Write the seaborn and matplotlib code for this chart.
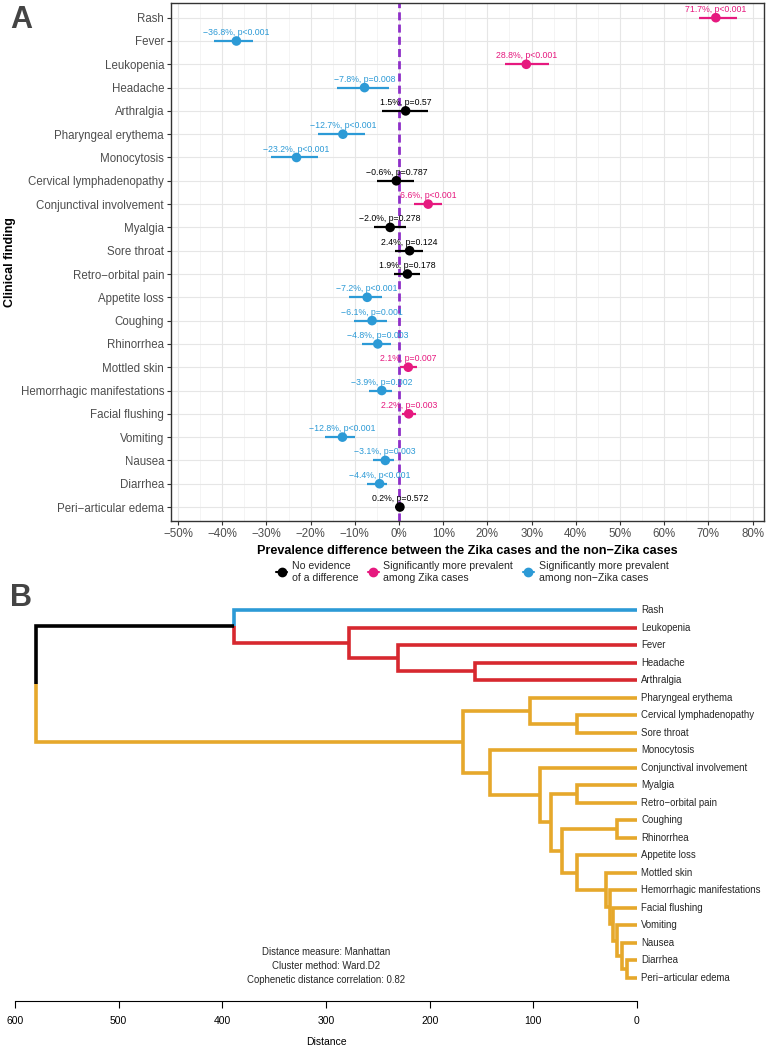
import numpy as np
import pandas as pd
import matplotlib.pyplot as plt
from matplotlib.lines import Line2D
from matplotlib.ticker import MultipleLocator, FuncFormatter
import seaborn as sns

# ---- Panel A data: prevalence differences (Zika - non-Zika) ----
findings = ["Rash", "Fever", "Leukopenia", "Headache", "Arthralgia", "Pharyngeal erythema",
            "Monocytosis", "Cervical lymphadenopathy", "Conjunctival involvement", "Myalgia",
            "Sore throat", "Retro\u2212orbital pain", "Appetite loss", "Coughing", "Rhinorrhea",
            "Mottled skin", "Hemorrhagic manifestations", "Facial flushing", "Vomiting",
            "Nausea", "Diarrhea", "Peri\u2212articular edema"]
diff = [71.7, -36.8, 28.8, -7.8, 1.5, -12.7, -23.2, -0.6, 6.6, -2.0, 2.4, 1.9,
        -7.2, -6.1, -4.8, 2.1, -3.9, 2.2, -12.8, -3.1, -4.4, 0.2]
ci_low = [67.9, -41.9, 24.0, -14.0, -3.9, -18.3, -29.0, -4.9, 3.4, -5.7, -1.0, -1.1,
          -11.4, -10.1, -8.3, 0.3, -6.8, 0.6, -16.7, -5.8, -7.2, -0.8]
ci_high = [76.4, -33.1, 33.9, -2.3, 6.6, -7.8, -18.4, 3.4, 9.8, 1.5, 5.5, 4.7,
           -3.9, -2.7, -1.9, 4.0, -1.5, 3.8, -10.0, -1.1, -2.7, 1.2]
pvals = ["p<0.001", "p<0.001", "p<0.001", "p=0.008", "p=0.57", "p<0.001", "p<0.001",
         "p=0.787", "p<0.001", "p=0.278", "p=0.124", "p=0.178", "p<0.001", "p=0.001",
         "p=0.003", "p=0.007", "p=0.002", "p=0.003", "p<0.001", "p=0.003", "p<0.001", "p=0.572"]
group = ["zika", "non", "zika", "non", "none", "non", "non", "none", "zika", "none", "none",
         "none", "non", "non", "non", "zika", "non", "zika", "non", "non", "non", "none"]

group_labels = {"none": "No evidence\nof a difference",
                "zika": "Significantly more prevalent\namong Zika cases",
                "non": "Significantly more prevalent\namong non\u2212Zika cases"}
palette = {"none": "#000000", "zika": "#E6197F", "non": "#2C9AD6"}

# ---- Panel B data: hierarchical clustering (Manhattan, Ward.D2) ----
leaves = ["Rash", "Leukopenia", "Fever", "Headache", "Arthralgia", "Pharyngeal erythema",
          "Cervical lymphadenopathy", "Sore throat", "Monocytosis", "Conjunctival involvement",
          "Myalgia", "Retro\u2212orbital pain", "Coughing", "Rhinorrhea", "Appetite loss",
          "Mottled skin", "Hemorrhagic manifestations", "Facial flushing", "Vomiting",
          "Nausea", "Diarrhea", "Peri\u2212articular edema"]
# merges: a leaf name or the index of an earlier merge
merge_left = ["Headache", "Fever", "Leukopenia", "Rash",
              "Cervical lymphadenopathy", "Pharyngeal erythema",
              "Diarrhea", "Nausea", "Vomiting", "Facial flushing",
              "Hemorrhagic manifestations", "Mottled skin", "Appetite loss",
              "Coughing", 13, "Myalgia", 15, "Conjunctival involvement",
              "Monocytosis", 5, 3]
merge_right = ["Arthralgia", 0, 1, 2,
               "Sore throat", 4,
               "Peri\u2212articular edema", 6, 7, 8, 9, 10, 11,
               "Rhinorrhea", 12, "Retro\u2212orbital pain", 14, 16, 17, 18, 19]
merge_height = [156, 231, 278, 389, 58, 103.5, 10, 14.8, 19, 22.8, 26, 30, 57.5,
                19.6, 72.6, 57.6, 83, 93.6, 142, 168, 580]
cluster_blue = ["Rash"]
cluster_red = ["Leukopenia", "Fever", "Headache", "Arthralgia"]
cluster_colors = {"blue": "#2C9AD6", "red": "#D7282F", "gold": "#E6A82B"}

sns.set_theme(style="whitegrid")
plt.rcParams['font.family'] = ['Liberation Sans', 'DejaVu Sans']
plt.rcParams['axes.unicode_minus'] = True

fig = plt.figure(figsize=(7.73, 10.5), dpi=100)

# ================= Panel A =================
df = pd.DataFrame({"finding": findings, "diff": diff, "low": ci_low, "high": ci_high,
                   "p": pvals, "group": group})
df["row"] = np.arange(len(df))

ax = fig.add_axes([171/773, 1-521/1050, (764-171)/773, (521-3)/1050])
ax.set_facecolor("white")
ax.hlines(df["row"], df["low"], df["high"], colors=df["group"].map(palette), lw=1.6, zorder=3)
ax.axvline(0, color="#8E2FC8", lw=2, ls=(0, (2.9, 1.5)), zorder=2.5)
sns.scatterplot(data=df, x="diff", y="row", hue="group", palette=palette, s=48,
                edgecolor="none", legend=False, ax=ax, zorder=4)

for _, r in df.iterrows():
    lab = f"{r['diff']:.1f}%, {r['p']}".replace("-", "\u2212")
    ax.text(r["diff"], r["row"] - 0.17, lab, ha="center", va="bottom", fontsize=6.3,
            color=palette[r["group"]], zorder=5)

ax.set_xlim(-51.6, 82.6)
ax.set_ylim(len(df) - 0.4, -0.63)
ax.set_yticks(df["row"])
ax.set_yticklabels(df["finding"])
ax.xaxis.set_major_locator(MultipleLocator(10))
ax.xaxis.set_minor_locator(MultipleLocator(5))
ax.xaxis.set_major_formatter(FuncFormatter(lambda v, _: f"{v:.0f}%".replace("-", "\u2212")))
ax.grid(which="major", color="#E6E6E6", lw=0.8)
ax.grid(which="minor", axis="x", color="#F0F0F0", lw=0.5)
ax.set_axisbelow(True)
for s in ax.spines.values():
    s.set_color("#333333")
    s.set_linewidth(1.0)
ax.tick_params(axis="both", which="major", bottom=True, left=True, length=3, width=0.8,
               color="#333333", labelcolor="#4D4D4D", labelsize=8.3, pad=2)
ax.tick_params(axis="x", which="minor", bottom=False)
ax.set_xlabel("Prevalence difference between the Zika cases and the non\u2212Zika cases",
              fontweight="bold", fontsize=9.1, color="black", labelpad=4)
ax.set_ylabel("Clinical finding", fontweight="bold", fontsize=9, color="black")
ax.yaxis.set_label_coords(-0.262, 0.5)

handles = [Line2D([0], [0], color=palette[g], marker="o", markersize=6, lw=1.5)
           for g in ["none", "zika", "non"]]
fig.legend(handles, [group_labels[g] for g in ["none", "zika", "non"]], loc="center",
           bbox_to_anchor=(472/773, 1-572/1050), ncol=3, frameon=False, fontsize=7.6,
           handlelength=1.1, columnspacing=0.9, handletextpad=0.4)

fig.text(10/773, 1-20/1050, "A", fontsize=22, fontweight="bold", color="#444444", va="center")
fig.text(10/773, 1-598/1050, "B", fontsize=22, fontweight="bold", color="#444444", va="center")

# ================= Panel B =================
axb = fig.add_axes([15/773, 1-1001/1050, (637-15)/773, (1001-600)/1050])
axb.set_facecolor("white")
axb.grid(False)

leaf_pos = {name: i + 1 for i, name in enumerate(leaves)}


def leaf_cluster(name):
    if name in cluster_blue:
        return "blue"
    if name in cluster_red:
        return "red"
    return "gold"


nodes = []  # (height, y, set of clusters)


def node_info(ref):
    if isinstance(ref, str):
        return 0.0, leaf_pos[ref], {leaf_cluster(ref)}
    return nodes[ref]


for left, right, h in zip(merge_left, merge_right, merge_height):
    children = [node_info(left), node_info(right)]
    y_node = (children[0][1] + children[1][1]) / 2
    for ch_h, ch_y, ch_cl in children:
        col = cluster_colors[next(iter(ch_cl))] if len(ch_cl) == 1 else "black"
        axb.plot([h, h, ch_h], [y_node, ch_y, ch_y], color=col, lw=2.6,
                 solid_capstyle="butt", solid_joinstyle="miter")
    nodes.append((h, y_node, children[0][2] | children[1][2]))

for name, y in leaf_pos.items():
    axb.annotate(name, (0, y), xytext=(3, 0), textcoords="offset points", ha="left",
                 va="center", fontsize=6.9, annotation_clip=False)

axb.text(300, 21.3, "Distance measure: Manhattan\nCluster method: Ward.D2\n"
         "Cophenetic distance correlation: 0.82", ha="center", va="center",
         fontsize=6.9, linespacing=1.5)

axb.set_xlim(600, 0)
axb.set_ylim(1 + (1001-610)/17.52, 1 - 10/17.52)
axb.set_yticks([])
axb.set_xticks([600, 500, 400, 300, 200, 100, 0])
for side in ["top", "right", "left"]:
    axb.spines[side].set_visible(False)
axb.spines["bottom"].set_color("black")
axb.spines["bottom"].set_linewidth(0.8)
axb.spines["bottom"].set_bounds(0, 600)
axb.tick_params(axis="x", bottom=True, length=5, width=0.8, color="black",
                labelsize=7.5, labelcolor="black", pad=6)
axb.set_xlabel("Distance", fontsize=7.5, color="black", labelpad=8)

fig.savefig("out.png", dpi=100, facecolor="white")
